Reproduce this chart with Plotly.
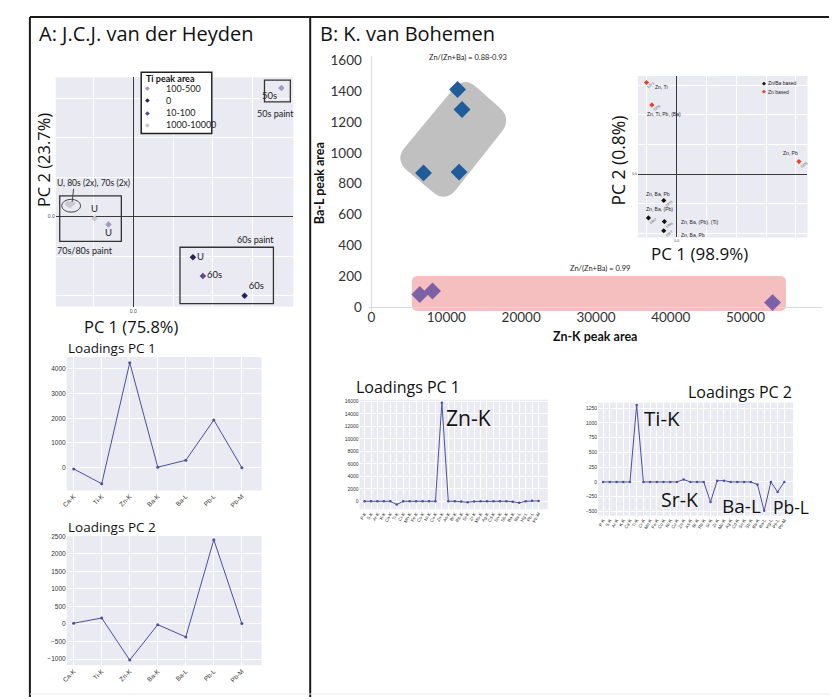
import math
import plotly.graph_objects as go

# page coordinates (the browser adds an 8 px body margin around the figure)
W, H = 837, 700
OFF = 8
FW, FH = W - OFF, H - OFF

# ---------------- DATA ----------------
# Panel A - PCA score plot (only 0.0 labelled on both axes)
a_pc1_ti_100_500 = [14.9, -2.5]
a_pc2_ti_100_500 = [13.0, -0.8]
a_lbl_ti_100_500 = ["50s", "U"]
a_pc1_ti_0 = [6.0, 11.2]
a_pc2_ti_0 = [-4.1, -8.0]
a_lbl_ti_0 = ["U", "60s"]
a_pc1_ti_10_100 = [7.0]
a_pc2_ti_10_100 = [-6.0]
a_lbl_ti_10_100 = ["60s"]
a_pc1_ti_1000 = [-6.6, -6.3, -6.1, -6.4, -3.9]
a_pc2_ti_1000 = [1.3, 1.2, 1.35, 1.15, -0.2]
a_lbl_ti_1000 = ["", "", "", "", "U"]
a_ti_legend = ["100-500", "0", "10-100", "1000-10000"]

# Panel A - loadings
a_elements = ["Ca-K", "Ti-K", "Zn-K", "Ba-K", "Ba-L", "Pb-L", "Pb-M"]
a_load_pc1 = [-50, -650, 4250, 20, 300, 1930, 0]
a_load_pc2 = [20, 170, -1030, -20, -370, 2400, 10]

# Panel B - peak areas
b_znba_znk = [11500, 12100, 6950, 11700]
b_znba_bal = [1410, 1280, 870, 875]
b_zn_znk = [6450, 8150, 53600]
b_zn_bal = [83, 105, 30]
b_ticks_x = [0, 10000, 20000, 30000, 40000, 50000, 60000]
b_ticks_y = [0, 200, 400, 600, 800, 1000, 1200, 1400, 1600]

# Panel B - PCA inset
b_pc1_znba = [-1.3, -2.84, -1.24, -1.3]
b_pc2_znba = [-2.67, -4.43, -4.8, -5.73]
b_year_znba = ["1975", "1967", "1966", "1967"]
b_pc1_zn = [-3.04, -2.5, 12.3]
b_pc2_zn = [9.27, 7.0, 1.27]
b_year_zn = ["1971", "1976", "1976"]

# Panel B - loadings
b_elements = ["P-K", "S-K", "Ar-K", "K-K", "Ca-K", "Ti-K", "Cr-K", "Mn-K", "Fe-K", "Co-K",
              "Ni-K", "Cu-K", "Zn-K", "As-K", "Br-K", "Rb-K", "Sr-K", "Zr-K", "Mo-K", "Ag-K",
              "Cd-K", "Sn-K", "Sb-K", "Ba-K", "Ba-L", "Hg-L", "Pb-L", "Pb-M"]
b_load_pc1 = [0, 0, 0, 0, 0, -530, 0, 0, 0, 0, 0, 0, 15800, 0, 0, -50, -150, -30, 0, 0,
              0, 0, 0, -60, -250, 0, 80, 60]
b_load_pc2 = [0, 0, 0, 0, 0, 1300, 0, 0, 0, 0, 0, 0, 40, 0, 0, 0, -340, 20, 20, 0,
              0, 0, 0, -45, -490, 0, -170, 0]

# ---------------- STYLE / HELPERS ----------------
HEAD = "Open Sans"
EXCEL = "Lato"
SNS = "Liberation Sans"
LAV = "#eaeaf2"
LINE = "#4b4f9e"
TI_COL = ["#a597c0", "#2a1f5e", "#5b4a8c", "#c9c7d1"]


def xd(a, b):
    return [(a - OFF) / FW, (b - OFF) / FW]


def yd(top, bot):
    return [1 - (bot - OFF) / FH, 1 - (top - OFF) / FH]


def P(x, y):
    return (x - OFF) / FW, 1 - (y - OFF) / FH


annotations = []
shapes = []


def ann(x, y, text, size, family=HEAD, color="#111", xanchor="center",
        yanchor="middle", angle=0, xref="paper", yref="paper"):
    if xref == "paper":
        x, y = P(x, y)
    annotations.append(dict(x=x, y=y, xref=xref, yref=yref, text=text, showarrow=False,
                            xanchor=xanchor, yanchor=yanchor, textangle=angle,
                            font=dict(family=family, size=size, color=color)))


def line_px(x0, y0, x1, y1, color="#1a1a1a", width=2):
    a0, b0 = P(x0, y0)
    a1, b1 = P(x1, y1)
    shapes.append(dict(type="line", xref="paper", yref="paper", x0=a0, y0=b0, x1=a1, y1=b1,
                       line=dict(color=color, width=width), layer="above"))


def bg(xa, ya):
    shapes.append(dict(type="rect", xref=f"{xa} domain", yref=f"{ya} domain", x0=0, x1=1,
                       y0=0, y1=1, fillcolor=LAV, line=dict(width=0), layer="below"))


fig = go.Figure()

# ---------------- PANEL A : PCA ----------------
groups = [(a_pc1_ti_100_500, a_pc2_ti_100_500, a_lbl_ti_100_500, ["bottom left", "bottom center"]),
          (a_pc1_ti_0, a_pc2_ti_0, a_lbl_ti_0, ["middle right", "top right"]),
          (a_pc1_ti_10_100, a_pc2_ti_10_100, a_lbl_ti_10_100, ["middle right"]),
          (a_pc1_ti_1000, a_pc2_ti_1000, a_lbl_ti_1000, ["top center"] * 5)]
for (xs, ys, lbl, pos), col, name in zip(groups, TI_COL, a_ti_legend):
    fig.add_trace(go.Scatter(x=xs, y=ys, mode="markers+text", text=lbl, textposition=pos,
                             textfont=dict(family=EXCEL, size=9.5, color="#222"),
                             marker=dict(symbol="diamond", size=5, color=col),
                             name=name, showlegend=False, xaxis="x", yaxis="y", cliponaxis=False))
bg("x", "y")
for x0, x1, y0, y1 in [(13.2, 15.8, 13.8, 11.6), (-7.4, -1.2, 2.1, -2.5), (4.7, 14.1, -3.1, -8.8)]:
    shapes.append(dict(type="rect", xref="x", yref="y", x0=x0, x1=x1, y0=y0, y1=y1,
                       line=dict(color="#333", width=1.3), layer="above"))
shapes.append(dict(type="circle", xref="x", yref="y", x0=-7.2, x1=-5.3, y0=1.75, y1=0.45,
                   line=dict(color="#444", width=1), layer="above"))
shapes.append(dict(type="line", xref="x", yref="y", x0=-6.15, x1=-6.0, y0=1.5, y1=2.8,
                   line=dict(color="#444", width=1), layer="above"))
ann(14.3, 10.4, "50s paint", 9, EXCEL, "#222", xref="x", yref="y")
ann(-4.9, -3.4, "70s/80s paint", 9, EXCEL, "#222", xref="x", yref="y")
ann(12.3, -2.3, "60s paint", 9, EXCEL, "#222", xref="x", yref="y")
ann(-4.0, 3.4, "U, 80s (2x), 70s (2x)", 8.5, EXCEL, "#222", xref="x", yref="y")

# manual legend
a0, b0 = P(137, 68)
a1, b1 = P(208, 130)
shapes.append(dict(type="rect", xref="paper", yref="paper", x0=a0, x1=a1, y0=b0, y1=b1,
                   fillcolor="white", line=dict(color="#222", width=1.5), layer="above"))
ann(139.5, 74, "<b>Ti peak area</b>", 9, EXCEL, "#111", xanchor="left")
for i, (name, col) in enumerate(zip(a_ti_legend, TI_COL)):
    yy = 84 + i * 12.4
    ann(143.5, yy, "◆", 6, SNS, col)
    ann(160, yy, name, 9, EXCEL, "#222", xanchor="left")

# ---------------- PANEL A : loadings ----------------
fig.add_trace(go.Scatter(x=a_elements, y=a_load_pc1, mode="lines+markers",
                         line=dict(color=LINE, width=1), marker=dict(size=3, color=LINE),
                         xaxis="x2", yaxis="y2", showlegend=False))
fig.add_trace(go.Scatter(x=a_elements, y=a_load_pc2, mode="lines+markers",
                         line=dict(color=LINE, width=1), marker=dict(size=3, color=LINE),
                         xaxis="x3", yaxis="y3", showlegend=False))
bg("x2", "y2")
bg("x3", "y3")

# ---------------- PANEL B : peak areas ----------------
BX0, BKX = 368.7, 10000 / 75.27   # page px of Zn-K = 0, units per px
BY0, BKY = 305.7, 1600 / 250.0    # page px of Ba-L = 0, units per px


def bx(p):
    return (p - BX0) * BKX


def by(p):
    return (BY0 - p) * BKY


def rounded_path(pts, r):
    segs = []
    n = len(pts)
    for i in range(n):
        p0, p1, p2 = pts[i - 1], pts[i], pts[(i + 1) % n]
        d0 = math.hypot(p0[0] - p1[0], p0[1] - p1[1])
        d2 = math.hypot(p2[0] - p1[0], p2[1] - p1[1])
        a = (p1[0] + (p0[0] - p1[0]) * r / d0, p1[1] + (p0[1] - p1[1]) * r / d0)
        b = (p1[0] + (p2[0] - p1[0]) * r / d2, p1[1] + (p2[1] - p1[1]) * r / d2)
        segs.append((a, p1, b))
    path = ""
    for k, (a, c, b) in enumerate(segs):
        path += ("M " if k == 0 else " L ") + f"{bx(a[0]):.1f},{by(a[1]):.1f}"
        path += f" Q {bx(c[0]):.1f},{by(c[1]):.1f} {bx(b[0]):.1f},{by(b[1]):.1f}"
    return path + " Z"


shapes.append(dict(type="path", xref="x4", yref="y4",
                   path=rounded_path([(391.7, 156.7), (461.7, 71.7), (510, 115), (443.3, 200)], 17),
                   fillcolor="#c0c0c0", line=dict(width=0), layer="below"))
shapes.append(dict(type="path", xref="x4", yref="y4",
                   path=rounded_path([(409.3, 274), (785.6, 274), (785.6, 309.4), (409.3, 309.4)], 6),
                   fillcolor="#f5bfbf", line=dict(width=0), layer="below"))
fig.add_trace(go.Scatter(x=b_znba_znk, y=b_znba_bal, mode="markers",
                         marker=dict(symbol="diamond", size=13, color="#1f5c99"),
                         xaxis="x4", yaxis="y4", showlegend=False, cliponaxis=False))
fig.add_trace(go.Scatter(x=b_zn_znk, y=b_zn_bal, mode="markers",
                         marker=dict(symbol="diamond", size=13, color="#7b61a6"),
                         xaxis="x4", yaxis="y4", showlegend=False, cliponaxis=False))
ann(466, 53, "Zn/(Zn+Ba) = 0.88-0.93", 7.5, EXCEL, "#222")
ann(599, 266, "Zn/(Zn+Ba) = 0.99", 7.5, EXCEL, "#222")
ann(316, 180, "<b>Ba-L peak area</b>", 12.5, EXCEL, "#111", angle=-90)
ann(594, 335, "<b>Zn-K peak area</b>", 12.5, EXCEL, "#111")

# ---------------- PANEL B : PCA inset ----------------
bg("x5", "y5")
fig.add_trace(go.Scatter(x=b_pc1_znba, y=b_pc2_znba, mode="markers",
                         marker=dict(symbol="diamond", size=4, color="#111"),
                         xaxis="x5", yaxis="y5", showlegend=False, cliponaxis=False))
fig.add_trace(go.Scatter(x=b_pc1_zn, y=b_pc2_zn, mode="markers",
                         marker=dict(symbol="diamond", size=4, color="#e8412c"),
                         xaxis="x5", yaxis="y5", showlegend=False, cliponaxis=False))
for xs, ys, yrs in [(b_pc1_znba, b_pc2_znba, b_year_znba), (b_pc1_zn, b_pc2_zn, b_year_zn)]:
    for xv, yv, t in zip(xs, ys, yrs):
        annotations.append(dict(x=xv, y=yv, xref="x5", yref="y5", text=t, showarrow=False,
                                xshift=5, yshift=-3, textangle=-35,
                                font=dict(family=SNS, size=3.5, color="#555")))
for t, xv, yv in [("Zn, Ti", -1.57, 8.8), ("Zn, Ti, Pb, (Ba)", -1.24, 6.1), ("Zn, Pb", 11.43, 2.1),
                  ("Zn, Ba, Pb", -1.9, -1.97), ("Zn, Ba, (Pb)", -1.74, -3.57),
                  ("Zn, Ba, (Pb), (Ti)", 2.26, -4.8), ("Zn, Ba, Pb", 1.6, -6.17)]:
    ann(xv, yv, t, 5, SNS, "#222", xref="x5", yref="y5")
ann(763.5, 79, "◆", 4.5, SNS, "#111")
ann(766, 79, "Zn/Ba based", 5, SNS, "#222", xanchor="left")
ann(763.5, 87.7, "◆", 4.5, SNS, "#e8412c")
ann(766, 87.7, "Zn based", 5, SNS, "#222", xanchor="left")
ann(617, 157, "PC 2 (0.8%)", 17.5, HEAD, "#111", angle=-90)
ann(699, 251.5, "PC 1 (98.9%)", 17, HEAD, "#111")

# ---------------- PANEL B : loadings ----------------
fig.add_trace(go.Scatter(x=b_elements, y=b_load_pc1, mode="lines+markers",
                         line=dict(color=LINE, width=1), marker=dict(size=2.5, color=LINE),
                         xaxis="x6", yaxis="y6", showlegend=False))
fig.add_trace(go.Scatter(x=b_elements, y=b_load_pc2, mode="lines+markers",
                         line=dict(color=LINE, width=1), marker=dict(size=2.5, color=LINE),
                         xaxis="x7", yaxis="y7", showlegend=False))
bg("x6", "y6")
bg("x7", "y7")
ann(466, 418, "Zn-K", 21, HEAD, "#111")
ann(660.5, 418, "Ti-K", 20.5, HEAD, "#111")
ann(679, 500, "Sr-K", 19.5, HEAD, "#111")
ann(741, 507, "Ba-L", 19, HEAD, "#111")
ann(790.5, 508, "Pb-L", 17.5, HEAD, "#111")

# ---------------- titles ----------------
ann(32, 29, "A: J.C.J. van der Heyden", 20, HEAD, "#111", xanchor="left")
ann(315, 29, "B: K. van Bohemen", 20, HEAD, "#111", xanchor="left")
ann(38, 157, "PC 2 (23.7%)", 16.5, HEAD, "#111", angle=-90)
ann(127, 325, "PC 1 (75.8%)", 16.5, HEAD, "#111")
ann(61, 347, "Loadings PC 1", 13.5, HEAD, "#111", xanchor="left")
ann(61, 528, "Loadings PC 2", 13.5, HEAD, "#111", xanchor="left")
ann(405.5, 386.5, "Loadings PC 1", 16, HEAD, "#111")
ann(739, 391.5, "Loadings PC 2", 16, HEAD, "#111")

# ---------------- frame ----------------
line_px(25, 12, 837, 12)
line_px(25, 12, 25, 700)
line_px(307, 12, 307, 700)
line_px(25, 697, 837, 697, color="#e9e9e9", width=1)

# ---------------- axes ----------------
tf_s = dict(family=SNS, size=6.5, color="#333")
pca_common = dict(tickvals=[0], ticktext=["0.0"], ticks="", showgrid=False,
                  zeroline=True, zerolinecolor="#3a3a3a", zerolinewidth=1, showline=False)
load_common = dict(showgrid=True, gridcolor="white", gridwidth=1, zeroline=False,
                   showline=False, ticks="", tickfont=tf_s)

layout = dict(
    width=FW, height=FH, margin=dict(l=0, r=0, t=0, b=0, pad=0),
    paper_bgcolor="white", plot_bgcolor="rgba(0,0,0,0)", showlegend=False,
    xaxis=dict(domain=xd(51, 290), range=[-7.8, 16.1], anchor="y",
               minor=dict(tick0=0, dtick=4, showgrid=True, gridcolor="white", gridwidth=1),
               tickfont=dict(family=SNS, size=5, color="#444"), **pca_common),
    yaxis=dict(domain=yd(73, 305), range=[-9.1, 14.1], anchor="x",
               minor=dict(tick0=0, dtick=4, showgrid=True, gridcolor="white", gridwidth=1),
               tickfont=dict(family=SNS, size=5, color="#444"), **pca_common),
    xaxis2=dict(domain=xd(62, 258), range=[-0.25, 6.7], anchor="y2", type="category",
                tickangle=-45, **load_common),
    yaxis2=dict(domain=yd(356, 491), range=[-920, 4480], anchor="x2", dtick=1000,
                tickformat="d", **load_common),
    xaxis3=dict(domain=xd(62, 258), range=[-0.25, 6.7], anchor="y3", type="category",
                tickangle=-45, **load_common),
    yaxis3=dict(domain=yd(537, 668), range=[-1180, 2510], anchor="x3", dtick=500,
                tickformat="d", **load_common),
    xaxis4=dict(domain=xd(366, 822), range=[bx(366), bx(822)], anchor="y4",
                tickmode="array", tickvals=b_ticks_x, tickformat="d", ticks="", showgrid=False,
                zeroline=True, zerolinecolor="#d9d9d9", zerolinewidth=1, showline=False,
                ticklabelstandoff=-4,
                tickfont=dict(family=EXCEL, size=13.5, color="#333")),
    yaxis4=dict(domain=yd(52, 310), range=[by(310), by(52)], anchor="x4",
                tickmode="array", tickvals=b_ticks_y, tickformat="d", ticks="", showgrid=False,
                zeroline=True, zerolinecolor="#d9d9d9", zerolinewidth=1, showline=False,
                ticklabelstandoff=6,
                tickfont=dict(family=EXCEL, size=13.5, color="#333")),
    xaxis5=dict(domain=xd(636.7, 807.3), range=[-3.9, 13.16], anchor="y5",
                minor=dict(tick0=0, dtick=3, showgrid=True, gridcolor="white", gridwidth=1),
                tickfont=dict(family=SNS, size=3.5, color="#444"), **pca_common),
    yaxis5=dict(domain=yd(71.7, 235), range=[-6.4, 9.93], anchor="x5",
                minor=dict(tick0=0, dtick=3, showgrid=True, gridcolor="white", gridwidth=1),
                tickfont=dict(family=SNS, size=3.5, color="#444"), **pca_common),
    xaxis6=dict(domain=xd(356.7, 546), range=[-0.77, 28.43], anchor="y6", type="category",
                tickmode="linear", tick0=0, dtick=1, tickangle=-60,
                **{**load_common, "tickfont": dict(family=SNS, size=4.5, color="#333")}),
    yaxis6=dict(domain=yd(399.3, 510), range=[-1270, 16270], anchor="x6", dtick=2000,
                tickformat="d",
                **{**load_common, "tickfont": dict(family=SNS, size=5, color="#333")}),
    xaxis7=dict(domain=xd(596.7, 792.7), range=[-0.74, 28.29], anchor="y7", type="category",
                tickmode="linear", tick0=0, dtick=1, tickangle=-60,
                **{**load_common, "tickfont": dict(family=SNS, size=4.5, color="#333")}),
    yaxis7=dict(domain=yd(402.3, 516.7), range=[-574, 1340], anchor="x7", dtick=250,
                tickformat="d",
                **{**load_common, "tickfont": dict(family=SNS, size=5, color="#333")}),
    annotations=annotations, shapes=shapes,
)
fig.update_layout(**layout)
fig.write_html("out.html")
